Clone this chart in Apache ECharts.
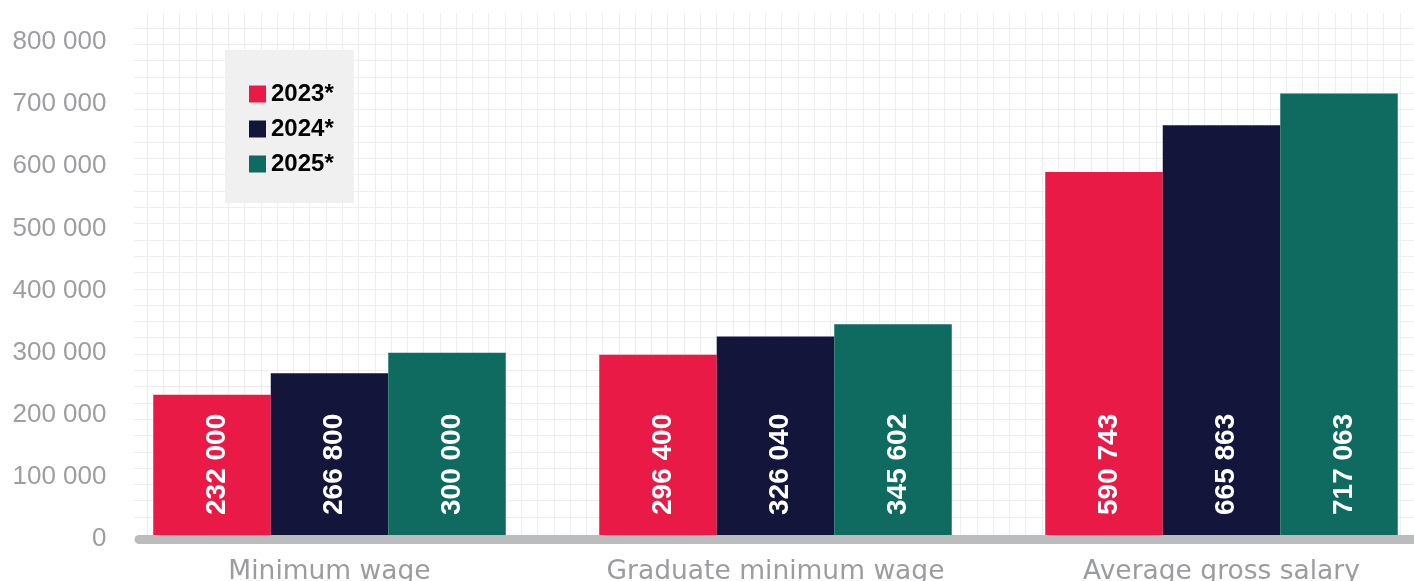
<!DOCTYPE html>
<html>
<head>
<meta charset="utf-8">
<script src="https://cdn.jsdelivr.net/npm/echarts@6/dist/echarts.min.js"></script>
<style>html,body{margin:0;padding:0;background:#fff;}#c{width:1414px;height:581px;}</style>
</head>
<body>
<div id="c"></div>
<script>
var categories = ['Minimum wage', 'Graduate minimum wage', 'Average gross salary'];
var years = ['2023*', '2024*', '2025*'];
var s2023 = [232000, 296400, 590743];
var s2024 = [266800, 326040, 665863];
var s2025 = [300000, 345602, 717063];
var yTicks = { min: 0, max: 800000, interval: 100000 };

var colors = ['#ea1a46', '#13153b', '#0f6b60'];
function fmt(v) { return String(Math.round(v)).replace(/\B(?=(\d{3})+(?!\d))/g, ' '); }

var chart = echarts.init(document.getElementById('c'), null, { renderer: 'canvas' });
var barLabel = {
  show: true, position: 'insideBottom', rotate: 90, align: 'left', verticalAlign: 'middle',
  distance: 24, offset: [0, 5], color: '#fff', fontFamily: 'Liberation Sans', fontWeight: 'bold', fontSize: 28,
  formatter: function (p) { return fmt(p.value); }
};
function mk(name, data, i) {
  return { name: name, type: 'bar', data: data, xAxisIndex: 0, yAxisIndex: 0,
    barWidth: 117.5, barGap: '0%', itemStyle: { color: colors[i] }, label: barLabel };
}
chart.setOption({
  animation: false,
  color: colors,
  grid: [
    { left: 106.5, width: 1338, top: 42, bottom: 42, outerBoundsMode: 'none', containLabel: false },
    { left: 147, right: 14, top: 13, bottom: 46, outerBoundsMode: 'none' },
    { left: 134, right: 0, top: 28, bottom: 64, outerBoundsMode: 'none' },
    { left: 139, right: 0, top: 42, bottom: 42, outerBoundsMode: 'none' }
  ],
  legend: {
    orient: 'vertical', left: 225, top: 50, backgroundColor: '#f0f0f0',
    padding: [32, 20, 27, 24], itemWidth: 17, itemHeight: 17, itemGap: 11, icon: 'rect',
    selectedMode: false, data: years,
    textStyle: { fontSize: 24, fontWeight: 'bold', fontFamily: 'Liberation Sans', color: '#000' }
  },
  xAxis: [
    { type: 'category', gridIndex: 0, data: categories, axisLine: { show: false }, axisTick: { show: false },
      axisLabel: { interval: 0, fontSize: 26.5, fontFamily: 'DejaVu Sans', color: '#9b9ca0', margin: 20 } },
    { type: 'value', gridIndex: 1, min: 0, max: 77, interval: 1, axisLine: { show: false }, axisTick: { show: false },
      axisLabel: { show: false }, splitLine: { show: true, lineStyle: { color: '#eeeeee', width: 1 } } },
    { type: 'value', gridIndex: 2, show: false },
    { type: 'value', gridIndex: 3, z: 10, min: 0, max: 1, axisLine: { show: true, lineStyle: { color: '#bbbcbe', width: 9 } },
      axisTick: { show: false }, axisLabel: { show: false }, splitLine: { show: false } }
  ],
  yAxis: [
    { type: 'value', gridIndex: 0, min: yTicks.min, max: yTicks.max, interval: yTicks.interval,
      axisLine: { show: false }, axisTick: { show: false }, splitLine: { show: false },
      axisLabel: { fontSize: 26, fontFamily: 'Liberation Sans', color: '#9d9ea2', margin: 0, formatter: fmt } },
    { type: 'value', gridIndex: 1, show: false },
    { type: 'value', gridIndex: 2, min: 0, max: 30, interval: 1, axisLine: { show: false }, axisTick: { show: false },
      axisLabel: { show: false }, splitLine: { show: true, lineStyle: { color: '#eeeeee', width: 1 } } },
    { type: 'value', gridIndex: 3, show: false }
  ],
  series: [mk(years[0], s2023, 0), mk(years[1], s2024, 1), mk(years[2], s2025, 2)]
});
</script>
</body>
</html>
